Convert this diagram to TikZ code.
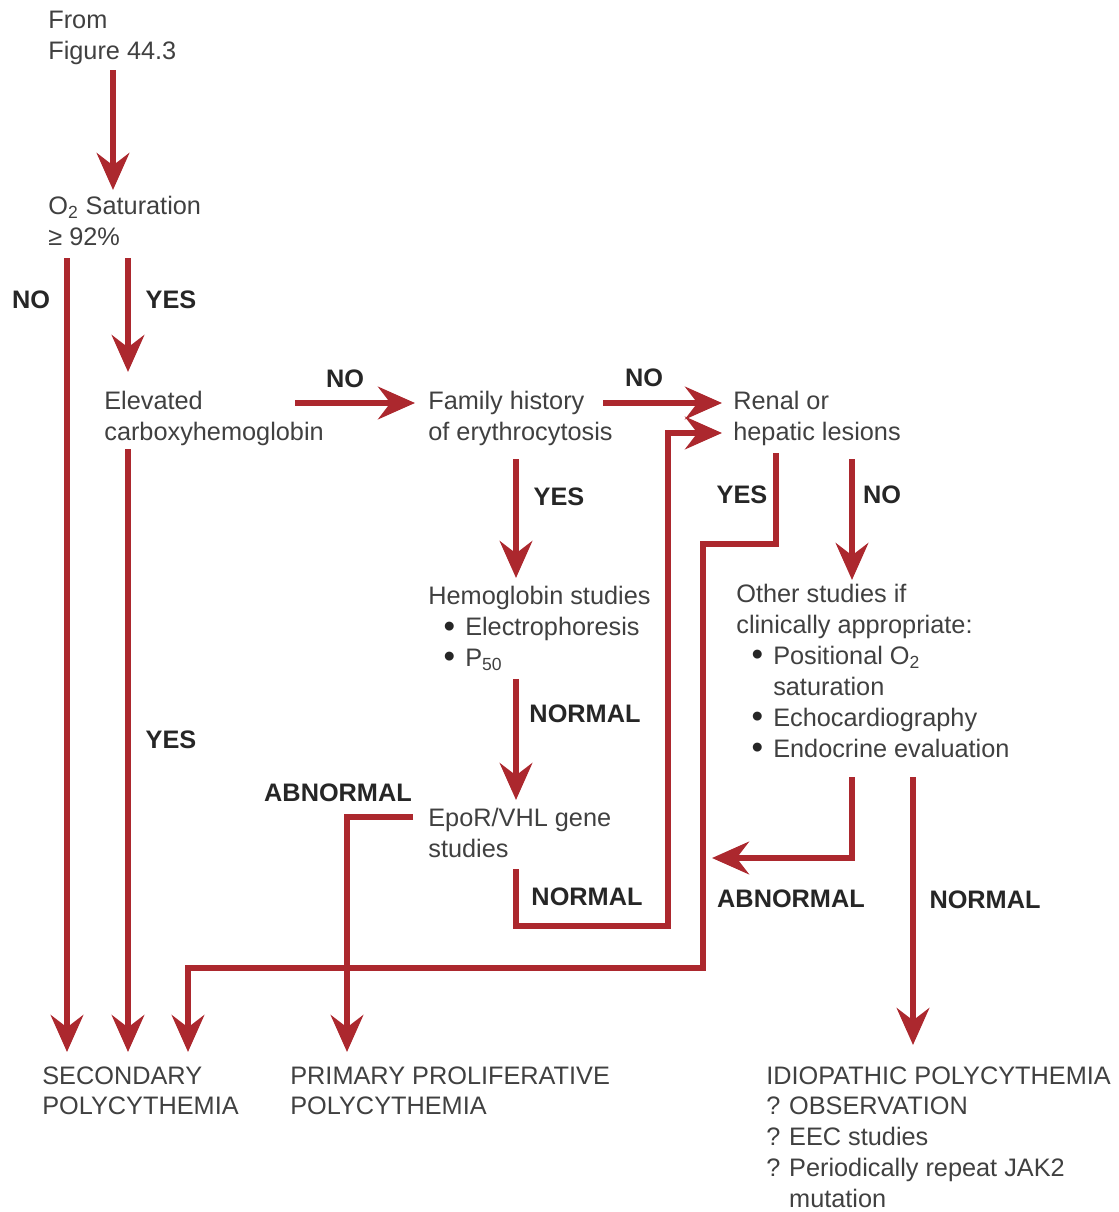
\documentclass[tikz,border=0pt]{standalone}
\usepackage{fontspec}
\setmainfont{Liberation Sans}
\usetikzlibrary{positioning, arrows.meta, calc}

\definecolor{flowred}{RGB}{172,40,46}
\definecolor{bodygray}{RGB}{64,64,64}
\definecolor{labelgray}{RGB}{38,38,38}
\newcommand{\itm}{\makebox[21pt][r]{\raisebox{-0.8pt}{\textcolor{labelgray}{\scalebox{1.3}{\textbullet}}}\hspace{5.8pt}}}
\newcommand{\qm}{\makebox[13pt][l]{?}}

\begin{document}
\begin{tikzpicture}[
        x=0.02cm, y=-0.02cm,
        txt/.style={anchor=north west, inner sep=0pt, align=left, text=bodygray, font=\fontsize{14.4}{17.6}\selectfont},
        lbl/.style={inner sep=0pt, text=labelgray, font=\fontsize{14.4}{17.6}\selectfont\bfseries},
        arr/.style={-{Stealth[length=21pt, width=18.5pt, inset=7pt]}, line width=3.4pt, flowred},
    ]
        \useasboundingbox (0,0) rectangle (1118,1212);

        \node[txt] (from) at (48,11) {From\\Figure 44.3};
        \node[txt] (o2sat) at (48,196) {O\textsubscript{2} Saturation\\≥ 92\%};
        \node[txt] (elevated) at (104,391) {Elevated\\carboxyhemoglobin};
        \node[txt] (family) at (428,391) {Family history\\of erythrocytosis};
        \node[txt] (renal) at (733,391) {Renal or\\hepatic lesions};
        \node[txt] (hemo) at (428,586) {Hemoglobin studies\\\itm Electrophoresis\\\itm P\textsubscript{50}};
        \node[txt] (other) at (736,584) {Other studies if\\clinically appropriate:\\\itm Positional O\textsubscript{2}\\\hspace*{21pt}saturation\\\itm Echocardiography\\\itm Endocrine evaluation};
        \node[txt] (epor) at (428,808) {EpoR/VHL gene\\studies};
        \node[txt] (secondary) at (42,1066) {SECONDARY\\POLYCYTHEMIA};
        \node[txt] (primary) at (290,1066) {PRIMARY PROLIFERATIVE\\POLYCYTHEMIA};
        \node[txt] (idio) at (766,1066) {IDIOPATHIC POLYCYTHEMIA\\\qm OBSERVATION\\\qm EEC studies\\\qm Periodically repeat JAK2\\\hspace*{13pt}mutation};

        % branch labels
        \node[lbl] (satno) at (31,300) {NO};
        \node[lbl] (satyes) at (171,300) {YES};
        \node[lbl] (elevno) at (345,379) {NO};
        \node[lbl] (famno) at (644,378) {NO};
        \node[lbl] (famyes) at (559,497) {YES};
        \node[lbl] (renalyes) at (742,495) {YES};
        \node[lbl] (renalno) at (882,495) {NO};
        \node[lbl] (hemonormal) at (585,714) {NORMAL};
        \node[lbl] (elevyes) at (171,740) {YES};
        \node[lbl] (eporabn) at (338,793) {ABNORMAL};
        \node[lbl] (epornormal) at (587,897) {NORMAL};
        \node[lbl] (otherabn) at (791,899) {ABNORMAL};
        \node[lbl] (othernormal) at (985,900) {NORMAL};

        \coordinate (abnend) at (712,858);

        \draw[arr] ([shift={(65,5)}]from.south west) -- ([shift={(65,-6)}]o2sat.north west);
        \draw[arr] ([shift={(19,12)}]o2sat.south west) -- ([shift={(25,-14)}]secondary.north west);
        \draw[arr] ([shift={(80,12)}]o2sat.south west) -- ([shift={(24,-19)}]elevated.north west);
        \draw[arr] ([shift={(24,3)}]elevated.south west) -- ([shift={(86,-14)}]secondary.north west);
        \draw[arr] ([shift={(191,12)}]elevated.north west) -- ([shift={(-13,12)}]family.north west);
        \draw[arr] ([shift={(175,12)}]family.north west) -- ([shift={(-11,12)}]renal.north west);
        \draw[arr] ([shift={(88,13)}]family.south west) -- ([shift={(88,-8)}]hemo.north west);
        \draw[arr] ([shift={(88,8)}]hemo.south west) -- ([shift={(88,-8)}]epor.north west);
        \draw[arr] ([shift={(-15,9)}]epor.north west) -| ([shift={(57,-14)}]primary.north west);
        \draw[arr] ([shift={(88,11)}]epor.south west) -- ++(0,57) -- ++(152,0) |- ([shift={(-11,42)}]renal.north west);
        \draw[arr] ([shift={(43,7)}]renal.south west) -- ++(0,91) -- ++(-73,0) -- ++(0,424) -| ([shift={(146,-14)}]secondary.north west);
        \draw[arr] ([shift={(119,13)}]renal.south west) -- ([shift={(116,-4)}]other.north west);
        \draw[arr] ([shift={(116,18)}]other.south west) |- (abnend);
        \draw[arr] ([shift={(177,18)}]other.south west) -- ([shift={(147,-21)}]idio.north west);
    \end{tikzpicture}
\end{document}
